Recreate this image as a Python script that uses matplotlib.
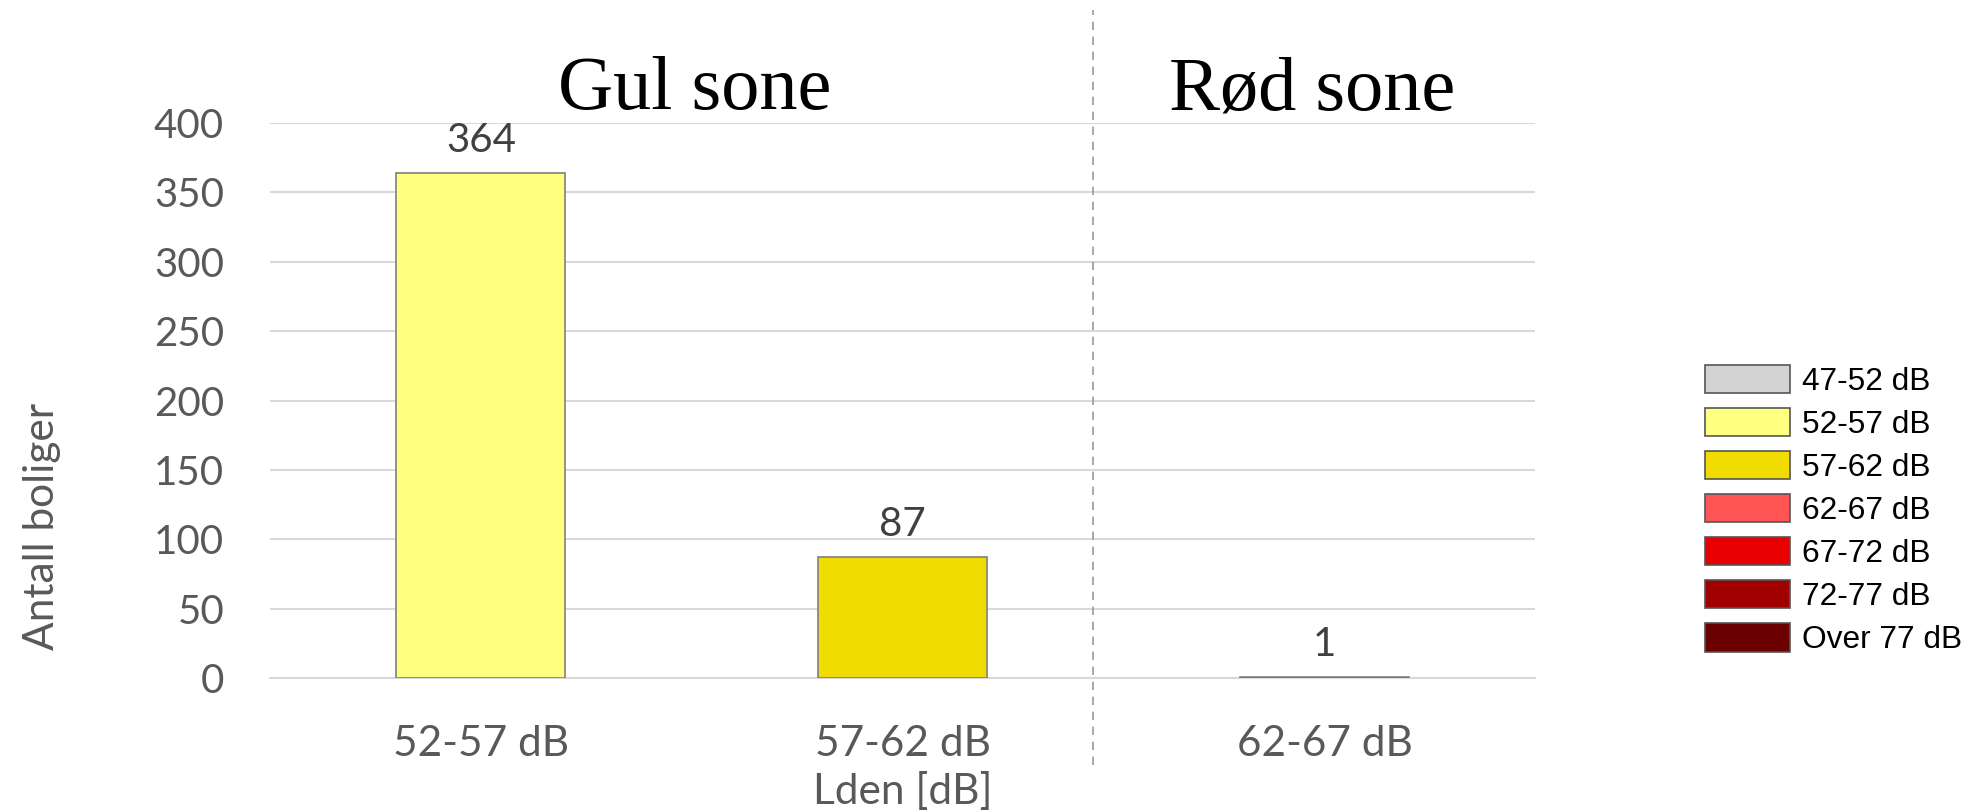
import matplotlib
matplotlib.use("Agg")
import matplotlib.pyplot as plt
from matplotlib.patches import Patch

# data
categories = ["52-57 dB", "57-62 dB", "62-67 dB"]
values = [364, 87, 1]
bar_colors = ["#ffff80", "#f0dc00", "#ff5555"]

legend_labels = ["47-52 dB", "52-57 dB", "57-62 dB", "62-67 dB", "67-72 dB", "72-77 dB", "Over 77 dB"]
legend_colors = ["#d3d3d3", "#ffff80", "#f0dc00", "#ff5555", "#e80000", "#a00000", "#6a0000"]

zone_titles = ["Gul sone", "Rød sone"]
zone_x = [0.506, 1.97]
y_ticks = [0, 50, 100, 150, 200, 250, 300, 350, 400]

txt_gray = "#595959"
font_main = ["Lato", "DejaVu Sans"]

fig = plt.figure(figsize=(19.66, 8.10), dpi=100)
ax = fig.add_axes([0.1373, 0.163, 0.781 - 0.1373, 0.685])

x = list(range(len(categories)))
bars = ax.bar(x, values, width=0.40, color=bar_colors, edgecolor="#7f7f7f", linewidth=1.2, zorder=3)

# value labels
for xi, v in zip(x, values):
    ax.annotate(str(v), (xi, v), xytext=(0, 10), textcoords="offset points",
                ha="center", va="bottom", fontsize=29, color="#404040", family=font_main)

ax.set_xlim(-0.5, 2.5)
ax.set_ylim(0, 400)
ax.set_yticks(y_ticks)
ax.set_xticks(x)
ax.set_xticklabels(categories)
ax.grid(axis="y", color="#d9d9d9", linewidth=1.5, zorder=0)
ax.set_axisbelow(True)
for s in ["top", "right", "left"]:
    ax.spines[s].set_visible(False)
ax.spines["bottom"].set_color("#d9d9d9")
ax.spines["bottom"].set_linewidth(1.5)
ax.tick_params(axis="both", length=0, labelsize=29, labelcolor=txt_gray)
ax.tick_params(axis="x", pad=34)
ax.tick_params(axis="y", pad=33)
for lab in ax.get_xticklabels() + ax.get_yticklabels():
    lab.set_family(font_main)
for lab in ax.get_xticklabels():
    lab.set_fontsize(30.5)

ax.set_xlabel("Lden [dB]", fontsize=30.5, color=txt_gray, family=font_main, labelpad=6)
ax.set_ylabel("Antall boliger", fontsize=30.5, color=txt_gray, family=font_main)
ax.yaxis.set_label_coords(-0.165, 0.273)

# zone divider
ax.axvline(1.45, ymin=-0.157, ymax=1.204, color="#9a9a9a", linewidth=1.2,
           linestyle=(0, (5, 4)), clip_on=False, zorder=1)

# zone titles
for t, zx in zip(zone_titles, zone_x):
    ax.text(zx, 1.058, t, transform=ax.get_xaxis_transform(), ha="center", va="center",
            fontsize=55, family=["Liberation Serif", "DejaVu Serif"], color="black")

handles = [Patch(facecolor=c, edgecolor="#555555", linewidth=1.2) for c in legend_colors]
fig.legend(handles, legend_labels, loc="upper left", bbox_to_anchor=(0.853, 0.585),
           frameon=False, handlelength=2.68, handleheight=1.0,
           handletextpad=0.38, labelspacing=0.35,
           prop={"family": ["Liberation Sans", "DejaVu Sans"], "size": 22.8})

fig.savefig("out.png", dpi=100)
